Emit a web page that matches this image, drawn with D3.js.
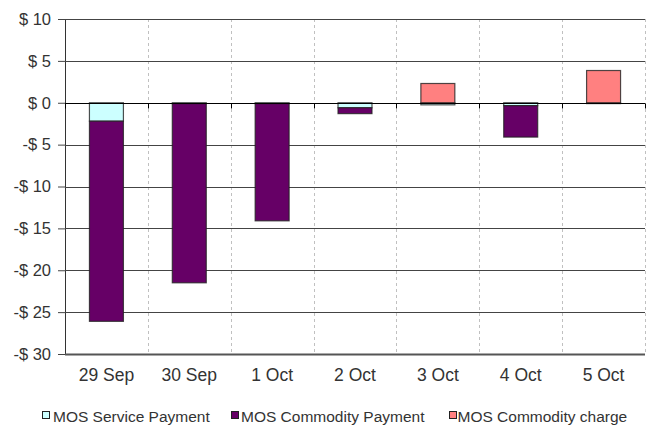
<!DOCTYPE html>
<html>
<head>
<meta charset="utf-8">
<script src="https://cdn.jsdelivr.net/npm/d3@7"></script>
<style>
  body { margin: 0; background: #fff; }
  svg { display: block; font-family: Arial, "Liberation Sans", sans-serif; }
</style>
</head>
<body>
<div id="chart"></div>
<script>
// ===================== DATA =====================
const days = ["29 Sep", "30 Sep", "1 Oct", "2 Oct", "3 Oct", "4 Oct", "5 Oct"];
const servicePayment = [-2.2, -0.1, -0.1, -0.6, -0.25, -0.35, 0];
const commodityPayment = [-23.9, -21.4, -14.0, -0.7, 0, -3.75, -0.1];
const commodityCharge = [0, 0, 0, 0, 2.3, 0, 3.85];
const yTicks = [10, 5, 0, -5, -10, -15, -20, -25, -30];

const seriesNames = ["MOS Service Payment", "MOS Commodity Payment", "MOS Commodity charge"];
const colors = ["#ccffff", "#660066", "#ff8080"];

// table for d3.stack
const table = days.map((d, i) => ({
  day: d,
  s0: servicePayment[i],
  s1: commodityPayment[i],
  s2: commodityCharge[i]
}));

// ===================== CHART =====================
const width = 646, height = 426;
const margin = { left: 65, right: 1, top: 19, bottom: 72 };
const textColor = "#333";

const svg = d3.select("#chart").append("svg")
  .attr("width", width)
  .attr("height", height);

const x = d3.scaleBand()
  .domain(days)
  .range([margin.left, width - margin.right])
  .paddingInner(0)
  .paddingOuter(0);

const y = d3.scaleLinear()
  .domain([-30, 10])
  .range([height - margin.bottom, margin.top]);

// vertical dashed gridlines at category boundaries
svg.append("g")
  .selectAll("line")
  .data(d3.range(1, days.length + 1))
  .enter().append("line")
  .attr("x1", i => Math.round(x(days[0]) + x.step() * i) + 0.5)
  .attr("x2", i => Math.round(x(days[0]) + x.step() * i) + 0.5)
  .attr("y1", y(10))
  .attr("y2", y(-30))
  .attr("stroke", "#c0c0c0")
  .attr("stroke-dasharray", "3,3");

// y axis
const yAxis = d3.axisLeft(y)
  .tickValues(yTicks)
  .tickSize(7)
  .tickPadding(7)
  .tickFormat(d => (d < 0 ? "-$ " : "$ ") + Math.abs(d));

const gy = svg.append("g")
  .attr("transform", `translate(${margin.left},0)`)
  .call(yAxis);
gy.select(".domain").attr("stroke", "#333");
gy.selectAll(".tick line").attr("stroke", "#444");
gy.selectAll(".tick text")
  .attr("font-size", 16.5)
  .attr("fill", textColor);

// horizontal gridlines
svg.append("g")
  .selectAll("line")
  .data(yTicks.filter(d => d !== 0))
  .enter().append("line")
  .attr("x1", margin.left)
  .attr("x2", width - margin.right)
  .attr("y1", d => Math.round(y(d)) + 0.5)
  .attr("y2", d => Math.round(y(d)) + 0.5)
  .attr("stroke", d => d === -30 ? "#555" : "#444")
  .attr("stroke-width", d => d === -30 ? 2 : 1);

// stacked bars
const stack = d3.stack()
  .keys(["s0", "s1", "s2"])
  .offset(d3.stackOffsetDiverging);
const layers = stack(table);

const barW = x.bandwidth() * 0.41;

svg.append("g")
  .selectAll("g")
  .data(layers)
  .enter().append("g")
  .attr("fill", (d, i) => colors[i])
  .selectAll("rect")
  .data(d => d.filter(p => p[1] - p[0] !== 0))
  .enter().append("rect")
  .attr("x", d => x(d.data.day) + (x.bandwidth() - barW) / 2)
  .attr("width", barW)
  .attr("y", d => y(Math.max(d[0], d[1])))
  .attr("height", d => Math.abs(y(d[0]) - y(d[1])))
  .attr("stroke", "#222")
  .attr("stroke-opacity", 0.8)
  .attr("stroke-width", 1.2);

// zero line with tick marks
const x0 = Math.round(y(0)) + 0.5;
svg.append("line")
  .attr("x1", margin.left).attr("x2", width - margin.right)
  .attr("y1", x0).attr("y2", x0)
  .attr("stroke", "#000");
svg.append("g")
  .selectAll("line")
  .data(d3.range(days.length + 1))
  .enter().append("line")
  .attr("x1", i => Math.round(x(days[0]) + x.step() * i) + 0.5)
  .attr("x2", i => Math.round(x(days[0]) + x.step() * i) + 0.5)
  .attr("y1", x0)
  .attr("y2", x0 + 5)
  .attr("stroke", "#000");

// category labels
svg.append("g")
  .selectAll("text")
  .data(days)
  .enter().append("text")
  .attr("x", d => x(d) + x.bandwidth() / 2)
  .attr("y", 381)
  .attr("text-anchor", "middle")
  .attr("font-size", 17.5)
  .attr("fill", textColor)
  .text(d => d);

// legend
const legendX = [42, 231, 449];
const legendTextDx = [11, 10, 8.5];
const legend = svg.append("g")
  .selectAll("g")
  .data(seriesNames)
  .enter().append("g")
  .attr("transform", (d, i) => `translate(${legendX[i]},411)`);
legend.append("rect")
  .attr("x", 0.5).attr("y", 0.5)
  .attr("width", 7).attr("height", 7)
  .attr("fill", (d, i) => colors[i])
  .attr("stroke", "#222");
legend.append("text")
  .attr("x", (d, i) => legendTextDx[i])
  .attr("y", 10.5)
  .attr("font-size", 15.5)
  .attr("fill", textColor)
  .text(d => d);
</script>
</body>
</html>
